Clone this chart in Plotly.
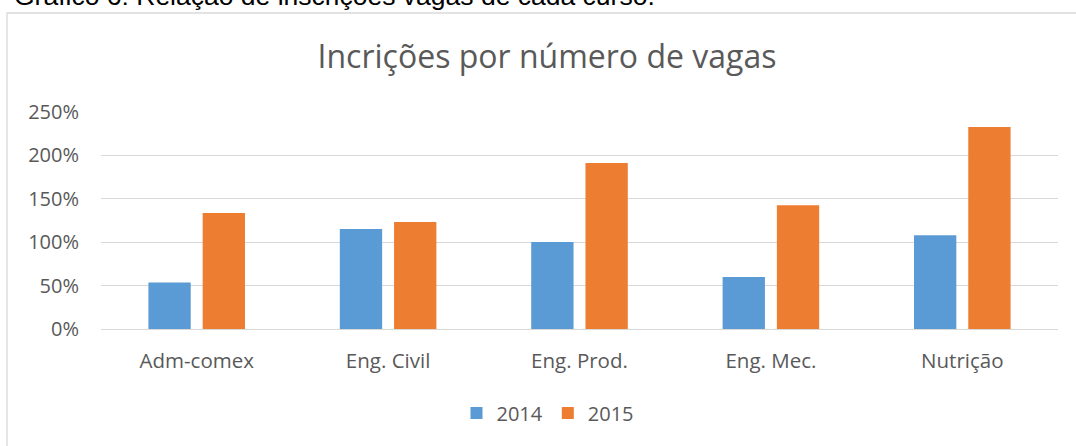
import plotly.graph_objects as go

categories = ["Adm-comex", "Eng. Civil", "Eng. Prod.", "Eng. Mec.", "Nutrição"]
values_2014 = [0.535, 1.152, 1.002, 0.599, 1.08]
values_2015 = [1.336, 1.233, 1.912, 1.425, 2.327]
series_names = ["2014", "2015"]
colors = ["#5B9BD5", "#ED7D31"]
ytick_vals = [0, 0.5, 1.0, 1.5, 2.0, 2.5]
ytick_text = ["0%", "50%", "100%", "150%", "200%", "250%"]

W, H = 1076, 446
L, R, T, B = 101, 18, 112, 117
pw = W - L - R
ph = H - T - B

fig = go.Figure()
for name, vals, col in zip(series_names, [values_2014, values_2015], colors):
    fig.add_trace(go.Bar(x=categories, y=vals, name=name,
                         marker=dict(color=col, line=dict(width=0))))

fig.update_layout(
    width=W, height=H,
    margin=dict(l=L, r=R, t=T, b=B),
    paper_bgcolor="white", plot_bgcolor="white",
    barmode="group", bargap=0.433, bargroupgap=0.22,
    font=dict(family="Open Sans", color="#595959", size=20),
    title=dict(text="Incrições por número de vagas", x=547 / W, xanchor="center",
               y=1 - 57 / H, yanchor="middle",
               font=dict(family="Open Sans", size=32, color="#595959")),
    showlegend=True,
    legend=dict(orientation="h", x=(548 - L) / pw, xanchor="center",
                y=(H - B - 413) / ph, yanchor="middle",
                font=dict(size=20, color="#595959"), itemwidth=30,
                traceorder="normal"),
    xaxis=dict(showgrid=False, showline=False, zeroline=False,
               ticklabelstandoff=17, tickfont=dict(size=20.5, color="#595959")),
    yaxis=dict(range=[0, 2.5], tickvals=ytick_vals, ticktext=ytick_text,
               showgrid=True, gridcolor="#D9D9D9", gridwidth=1.3,
               zeroline=True, zerolinecolor="#D9D9D9", zerolinewidth=1.3,
               showline=False, ticklabelstandoff=21,
               tickfont=dict(size=20, color="#595959")),
)

# chart frame
fig.add_shape(type="rect", xref="paper", yref="paper",
              x0=(7 - L) / pw, x1=(W + 20 - L) / pw,
              y0=(H - B - (H + 20)) / ph, y1=(H - B - 13) / ph,
              line=dict(color="#D9D9D9", width=1.3), fillcolor="rgba(0,0,0,0)",
              layer="below")

# caption above the chart (partly cut off in reference)
fig.add_annotation(text="Gráfico 6: Relação de inscrições vagas de cada curso.",
                   xref="paper", yref="paper",
                   x=(12 - L) / pw, xanchor="left",
                   y=(H - B - 13) / ph, yanchor="bottom",
                   showarrow=False,
                   font=dict(family="Liberation Sans", size=26.5, color="#000000"))

fig.write_html("out.html", config={"displayModeBar": False},
               post_script="document.body.style.margin='0';document.body.style.overflow='hidden';")
